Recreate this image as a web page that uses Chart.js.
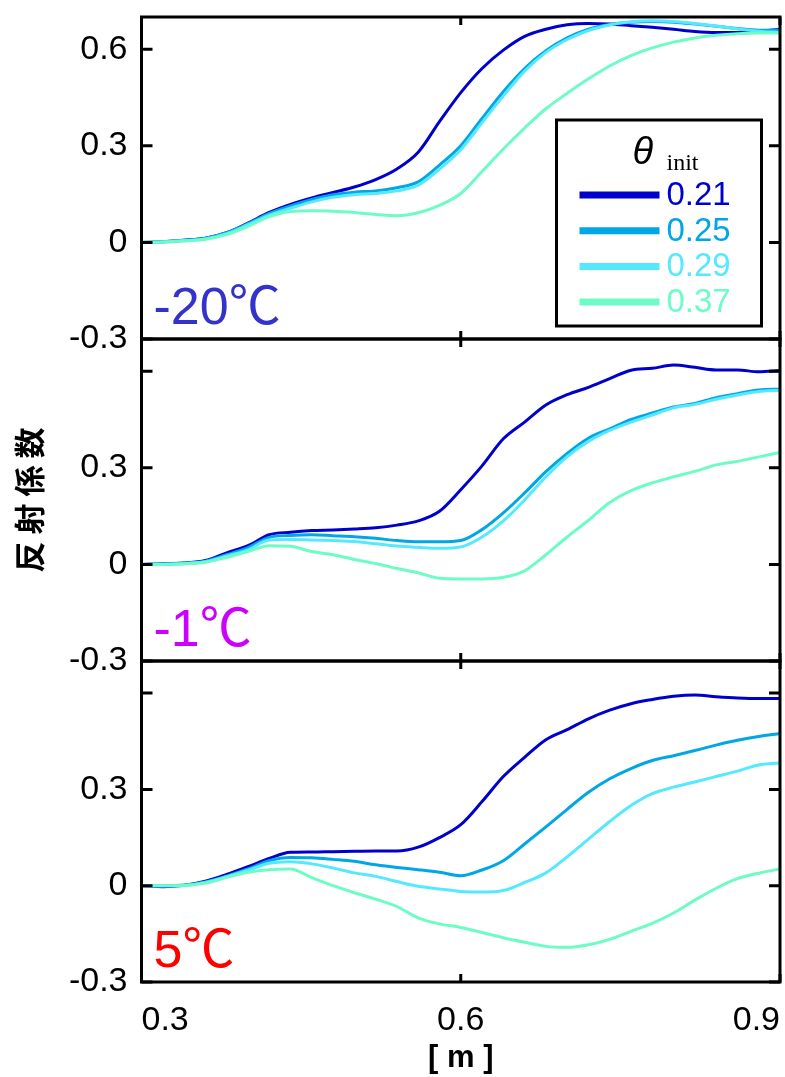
<!DOCTYPE html>
<html lang="ja">
<head>
<meta charset="utf-8">
<title>反射係数</title>
<script src="https://cdn.jsdelivr.net/npm/chart.js@4.4.1/dist/chart.umd.min.js"></script>
<style>
    html, body { margin: 0; padding: 0; background: #ffffff; }
    #zone { position: relative; width: 785px; height: 1077px; }
    #zone canvas { position: absolute; left: 0; top: 0; }
</style>
</head>
<body>
<div id="zone">
    <canvas id="graphM20" width="785" height="1077"></canvas>
    <canvas id="graphM1" width="785" height="1077"></canvas>
    <canvas id="graphP5" width="785" height="1077"></canvas>
</div>
<script>
// ============================================
// データ
// ============================================
var positions = [0.30, 0.32, 0.34, 0.36, 0.38, 0.40, 0.42, 0.44, 0.46, 0.48,
                 0.50, 0.52, 0.54, 0.56, 0.58, 0.60, 0.62, 0.64, 0.66, 0.68,
                 0.70, 0.72, 0.74, 0.76, 0.78, 0.80, 0.82, 0.84, 0.86, 0.88, 0.90];

var thetaLabels = ["0.21", "0.25", "0.29", "0.37"];
var lineColors = ["#0000cc", "#00a6e6", "#55e9ff", "#6dfcc6"];

var xTicks = [0.3, 0.6, 0.9];
var yTicks = [-0.3, 0, 0.3, 0.6];

var panelLabels = ["-20℃", "-1℃", "5℃"];
var panelColors = ["#3333cc", "#cc00ff", "#ff0000"];

// -20℃
var m20_021 = [0.000, 0.002, 0.007, 0.013, 0.030, 0.060, 0.093, 0.118, 0.138, 0.155,
               0.172, 0.195, 0.228, 0.280, 0.375, 0.465, 0.540, 0.597, 0.640, 0.662,
               0.676, 0.680, 0.678, 0.673, 0.668, 0.662, 0.655, 0.652, 0.652, 0.656, 0.662];
var m20_025 = [0.000, 0.002, 0.007, 0.013, 0.030, 0.058, 0.090, 0.113, 0.133, 0.148,
               0.156, 0.160, 0.170, 0.188, 0.240, 0.300, 0.385, 0.468, 0.540, 0.595,
               0.635, 0.662, 0.677, 0.684, 0.686, 0.684, 0.678, 0.671, 0.664, 0.659, 0.660];
var m20_029 = [0.000, 0.001, 0.005, 0.011, 0.027, 0.055, 0.085, 0.106, 0.126, 0.140,
               0.148, 0.152, 0.160, 0.178, 0.228, 0.288, 0.372, 0.455, 0.532, 0.590,
               0.630, 0.658, 0.675, 0.685, 0.688, 0.686, 0.680, 0.672, 0.663, 0.656, 0.652];
var m20_037 = [0.000, 0.001, 0.005, 0.010, 0.024, 0.050, 0.080, 0.096, 0.098, 0.097,
               0.093, 0.087, 0.083, 0.092, 0.115, 0.152, 0.220, 0.290, 0.355, 0.415,
               0.463, 0.508, 0.548, 0.580, 0.604, 0.622, 0.635, 0.643, 0.648, 0.650, 0.650];

// -1℃
var m1_021 = [0.000, 0.001, 0.004, 0.012, 0.036, 0.058, 0.092, 0.100, 0.105, 0.107,
              0.110, 0.114, 0.122, 0.135, 0.165, 0.232, 0.306, 0.390, 0.442, 0.495,
              0.527, 0.550, 0.577, 0.603, 0.609, 0.619, 0.612, 0.604, 0.604, 0.598, 0.602];
var m1_025 = [0.000, 0.002, 0.004, 0.010, 0.030, 0.052, 0.084, 0.090, 0.092, 0.089,
              0.086, 0.081, 0.074, 0.070, 0.070, 0.074, 0.108, 0.160, 0.222, 0.288,
              0.345, 0.392, 0.421, 0.450, 0.470, 0.489, 0.500, 0.518, 0.530, 0.542, 0.544];
var m1_029 = [0.000, 0.000, 0.002, 0.008, 0.026, 0.045, 0.076, 0.077, 0.076, 0.074,
              0.071, 0.064, 0.057, 0.053, 0.050, 0.054, 0.085, 0.135, 0.200, 0.272,
              0.335, 0.382, 0.416, 0.442, 0.464, 0.486, 0.497, 0.513, 0.526, 0.537, 0.541];
var m1_037 = [0.000, 0.000, 0.002, 0.007, 0.022, 0.040, 0.058, 0.056, 0.040, 0.030,
              0.015, 0.003, -0.013, -0.026, -0.043, -0.045, -0.045, -0.040, -0.020, 0.030,
              0.085, 0.137, 0.192, 0.229, 0.253, 0.272, 0.289, 0.309, 0.320, 0.334, 0.348];

// 5℃
var p5_021 = [0.000, -0.003, 0.001, 0.014, 0.035, 0.059, 0.085, 0.104, 0.105, 0.106,
              0.107, 0.108, 0.108, 0.120, 0.150, 0.190, 0.262, 0.340, 0.400, 0.455,
              0.486, 0.520, 0.547, 0.567, 0.580, 0.590, 0.594, 0.589, 0.585, 0.583, 0.583];
var p5_025 = [0.000, 0.000, 0.002, 0.012, 0.030, 0.052, 0.078, 0.088, 0.087, 0.082,
              0.076, 0.065, 0.057, 0.050, 0.042, 0.031, 0.049, 0.078, 0.130, 0.183,
              0.238, 0.291, 0.333, 0.365, 0.390, 0.405, 0.421, 0.438, 0.453, 0.465, 0.474];
var p5_029 = [0.000, 0.000, 0.001, 0.010, 0.028, 0.048, 0.070, 0.075, 0.068, 0.055,
              0.040, 0.029, 0.013, -0.002, -0.010, -0.018, -0.020, -0.015, 0.010, 0.040,
              0.090, 0.145, 0.200, 0.250, 0.287, 0.307, 0.323, 0.340, 0.357, 0.376, 0.382];
var p5_037 = [0.000, 0.000, 0.001, 0.008, 0.026, 0.042, 0.050, 0.052, 0.025, 0.000,
              -0.022, -0.042, -0.065, -0.100, -0.119, -0.130, -0.146, -0.162, -0.176, -0.189,
              -0.192, -0.184, -0.167, -0.142, -0.117, -0.085, -0.045, -0.008, 0.022, 0.039, 0.052];

var panelSeries = [
    [m20_021, m20_025, m20_029, m20_037],
    [m1_021, m1_025, m1_029, m1_037],
    [p5_021, p5_025, p5_029, p5_037]
];

// パネルの上下位置 (px)
var panelTop = [17, 339, 661];
var panelBottom = [339, 661, 982];
var xAxisHeight = 95;

var sansFont = '"Liberation Sans", Arial, "Noto Sans CJK JP", sans-serif';
Chart.defaults.font.family = sansFont;
Chart.defaults.color = "#000000";

// ============================================
// 枠と内向きの目盛り
// ============================================
var cadrePlugin = {
    id: "cadre",
    afterDatasetsDraw: function (chart) {
        var ctx = chart.ctx;
        var a = chart.chartArea;
        var sx = chart.scales.x;
        var sy = chart.scales.y;

        ctx.save();
        ctx.strokeStyle = "#000000";
        ctx.lineWidth = 3;
        ctx.beginPath();
        yTicks.forEach(function (v) {
            var py = sy.getPixelForValue(v);
            ctx.moveTo(a.left, py);
            ctx.lineTo(a.left + 11, py);
            ctx.moveTo(a.right, py);
            ctx.lineTo(a.right - 11, py);
        });
        xTicks.forEach(function (v) {
            var px = sx.getPixelForValue(v);
            ctx.moveTo(px, a.top);
            ctx.lineTo(px, a.top + 8);
            ctx.moveTo(px, a.bottom);
            ctx.lineTo(px, a.bottom - 8);
        });
        ctx.stroke();
        ctx.strokeRect(a.left, a.top, a.right - a.left, a.bottom - a.top);
        ctx.restore();
    }
};

// 温度ラベル (-20℃ など)
var etiquettePlugin = {
    id: "etiquette",
    afterDraw: function (chart, args, opts) {
        if (!opts.text) return;
        var ctx = chart.ctx;
        var a = chart.chartArea;
        ctx.save();
        ctx.font = "52px " + sansFont;
        ctx.fillStyle = opts.color;
        ctx.textAlign = "left";
        ctx.textBaseline = "alphabetic";
        ctx.fillText(opts.text, a.left + 12, a.bottom - 15);
        ctx.restore();
    }
};

// 凡例 (θ init)
var legendePlugin = {
    id: "legende",
    afterDraw: function (chart, args, opts) {
        if (!opts.show) return;
        var ctx = chart.ctx;
        var a = chart.chartArea;
        var bx = a.left + 415;
        var by = a.top + 103;

        ctx.save();
        ctx.fillStyle = "#ffffff";
        ctx.fillRect(bx, by, 205, 206);
        ctx.strokeStyle = "#000000";
        ctx.lineWidth = 3;
        ctx.strokeRect(bx, by, 205, 206);

        ctx.fillStyle = "#000000";
        ctx.textBaseline = "alphabetic";
        ctx.textAlign = "left";
        ctx.font = "italic 38px " + sansFont;
        ctx.fillText("θ", bx + 76, by + 44);
        ctx.font = '24px "Liberation Serif", "Times New Roman", serif';
        ctx.fillText("init", bx + 110, by + 50);

        chart.data.datasets.forEach(function (ds, k) {
            var ly = by + 75 + k * 35.7;
            ctx.strokeStyle = ds.borderColor;
            ctx.lineWidth = 7;
            ctx.beginPath();
            ctx.moveTo(bx + 23, ly);
            ctx.lineTo(bx + 103, ly);
            ctx.stroke();
            ctx.fillStyle = ds.borderColor;
            ctx.font = "33px " + sansFont;
            ctx.textBaseline = "middle";
            ctx.fillText(ds.label, bx + 110, ly + 1);
        });
        ctx.restore();
    }
};

// ============================================
// パネル作成
// ============================================
function creerPanneau(index, canvasId) {
    var isBottom = index === panelSeries.length - 1;

    var datasets = panelSeries[index].map(function (serie, k) {
        return {
            label: thetaLabels[k],
            data: positions.map(function (x, i) { return { x: x, y: serie[i] }; }),
            borderColor: lineColors[k],
            backgroundColor: lineColors[k],
            borderWidth: 3,
            pointRadius: 0,
            fill: false,
            cubicInterpolationMode: "monotone",
            borderJoinStyle: "round",
            borderCapStyle: "round",
            order: panelSeries[index].length - 1 - k
        };
    });

    var ctx = document.getElementById(canvasId).getContext("2d");
    new Chart(ctx, {
        type: "line",
        data: { datasets: datasets },
        plugins: [cadrePlugin, etiquettePlugin, legendePlugin],
        options: {
            responsive: false,
            animation: false,
            events: [],
            layout: {
                padding: {
                    left: 0,
                    right: 5,
                    top: panelTop[index],
                    bottom: 1077 - panelBottom[index] - (isBottom ? xAxisHeight : 0)
                }
            },
            plugins: {
                legend: { display: false },
                tooltip: { enabled: false },
                etiquette: { text: panelLabels[index], color: panelColors[index] },
                legende: { show: index === 0 }
            },
            scales: {
                x: {
                    type: "linear",
                    min: 0.3,
                    max: 0.9,
                    afterBuildTicks: function (s) {
                        s.ticks = xTicks.map(function (v) { return { value: v }; });
                    },
                    afterFit: function (s) {
                        s.height = isBottom ? xAxisHeight : 0;
                        s.paddingLeft = 0;
                        s.paddingRight = 0;
                    },
                    grid: { display: false, drawTicks: false },
                    border: { display: false },
                    ticks: {
                        display: isBottom,
                        align: "inner",
                        autoSkip: false,
                        maxRotation: 0,
                        padding: 18,
                        font: { size: 34 },
                        color: "#000000",
                        callback: function (v) { return String(v); }
                    },
                    title: {
                        display: isBottom,
                        text: "[ m ]",
                        color: "#000000",
                        font: { size: 31, weight: "bold" },
                        padding: { top: 0, bottom: 0 }
                    }
                },
                y: {
                    type: "linear",
                    min: -0.3,
                    max: 0.7,
                    afterBuildTicks: function (s) {
                        s.ticks = yTicks.map(function (v) { return { value: v }; });
                    },
                    afterFit: function (s) {
                        s.width = 141.5;
                        s.paddingTop = 0;
                        s.paddingBottom = 0;
                    },
                    grid: { display: false, drawTicks: false },
                    border: { display: false },
                    ticks: {
                        autoSkip: false,
                        padding: 14,
                        font: { size: 34 },
                        color: "#000000",
                        callback: function (v) {
                            if (index > 0 && v === 0.6) return "";
                            return String(v);
                        }
                    },
                    title: {
                        display: index === 1,
                        text: "反 射 係 数",
                        color: "#000000",
                        font: { family: '"Noto Sans CJK JP", sans-serif', size: 31, weight: "bold" },
                        padding: { top: 11, bottom: 0 }
                    }
                }
            }
        }
    });
}

creerPanneau(0, "graphM20");
creerPanneau(1, "graphM1");
creerPanneau(2, "graphP5");
</script>
</body>
</html>
